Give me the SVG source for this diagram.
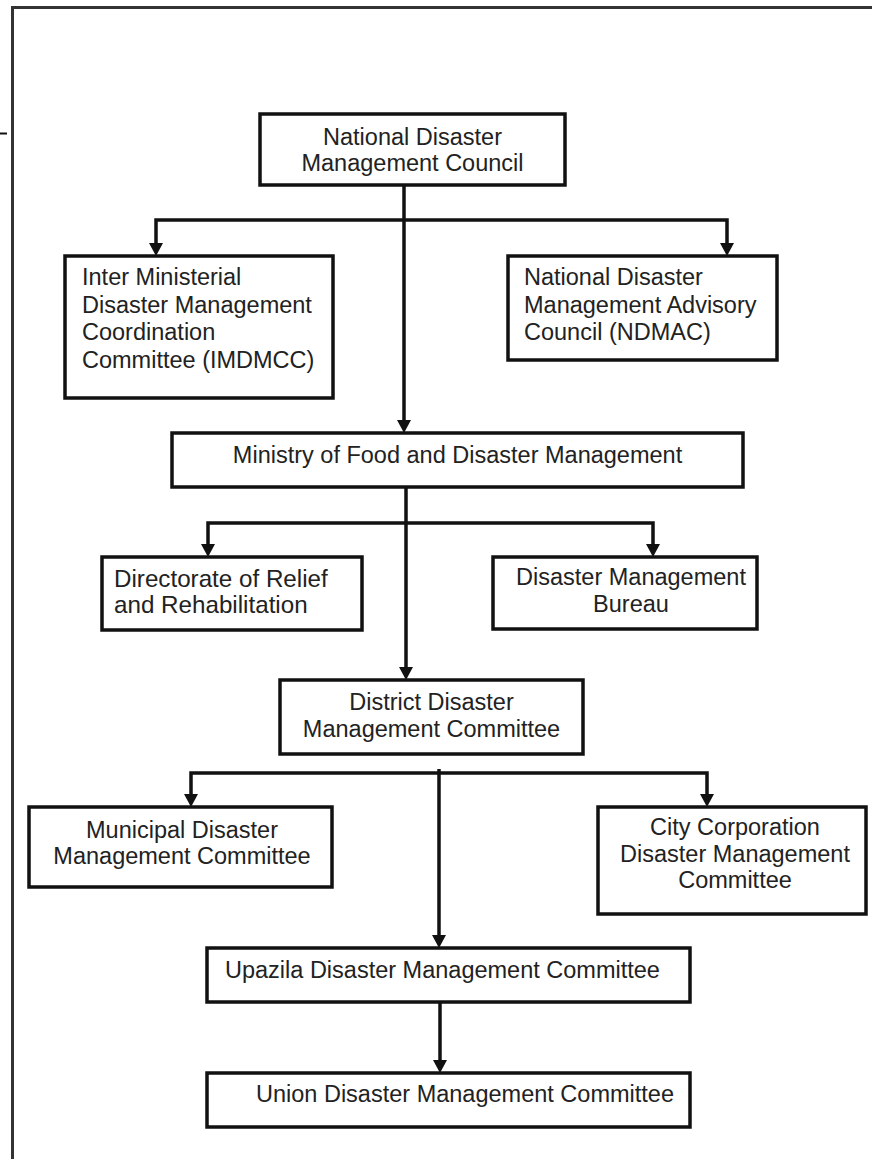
<svg xmlns="http://www.w3.org/2000/svg" width="872" height="1159" viewBox="0 0 872 1159">
<style>
.box{fill:#fff;stroke:#111;stroke-width:3.5}
.t{font-family:"Liberation Sans",Arial,sans-serif;font-size:23.5px;fill:#222}
.c{text-anchor:middle}
.conn{fill:none;stroke:#111;stroke-width:3.5}
.frame{fill:none;stroke:#333;stroke-width:3}
</style>
<defs>
<marker id="arr" markerUnits="userSpaceOnUse" markerWidth="16" markerHeight="16" viewBox="0 -8 16 16" refX="5" refY="0" orient="auto" overflow="visible">
<path d="M0,-7 L13,0 L0,7 z" fill="#111"/>
</marker>
</defs>
<rect width="872" height="1159" fill="#fff"/>
<g id="frame">
<path class="frame" d="M12.5,1159 V7.5 H872"/>
<path d="M0,133.5 H7" stroke="#111" stroke-width="2"/>
</g>
<g id="connectors">
<path class="conn" d="M404,185 V425" marker-end="url(#arr)"/>
<path class="conn" d="M404,220 H156 V248" marker-end="url(#arr)"/>
<path class="conn" d="M404,220 H727 V248" marker-end="url(#arr)"/>
<path class="conn" d="M406,487 V672" marker-end="url(#arr)"/>
<path class="conn" d="M406,523 H208 V549" marker-end="url(#arr)"/>
<path class="conn" d="M406,523 H653 V549" marker-end="url(#arr)"/>
<path class="conn" d="M439,773 H191 V799" marker-end="url(#arr)"/>
<path class="conn" d="M439,773 H707 V799" marker-end="url(#arr)"/>
<path class="conn" d="M439,769 V940" marker-end="url(#arr)"/>
<path class="conn" d="M440,1002 V1065" marker-end="url(#arr)"/>
</g>
<g id="ndmc">
<rect class="box" x="260" y="114" width="305" height="71"/>
<text class="t c" x="412.5" y="145">National Disaster</text>
<text class="t c" x="412.5" y="171">Management Council</text>
</g>
<g id="imdmcc">
<rect class="box" x="65" y="256" width="268" height="142"/>
<text class="t" x="82" y="285">Inter Ministerial</text>
<text class="t" x="82" y="313">Disaster Management</text>
<text class="t" x="82" y="340">Coordination</text>
<text class="t" x="82" y="368">Committee (IMDMCC)</text>
</g>
<g id="ndmac">
<rect class="box" x="508" y="256" width="269" height="104"/>
<text class="t" x="524" y="285">National Disaster</text>
<text class="t" x="524" y="313">Management Advisory</text>
<text class="t" x="524" y="340">Council (NDMAC)</text>
</g>
<g id="ministry">
<rect class="box" x="172" y="433" width="571" height="54"/>
<text class="t c" x="457.5" y="463">Ministry of Food and Disaster Management</text>
</g>
<g id="drr">
<rect class="box" x="102" y="557" width="260" height="73"/>
<text class="t" x="114" y="587" style="font-size:24.2px">Directorate of Relief</text>
<text class="t" x="114" y="613" style="font-size:24.2px">and Rehabilitation</text>
</g>
<g id="dmb">
<rect class="box" x="493" y="557" width="264" height="72"/>
<text class="t c" x="631" y="585">Disaster Management</text>
<text class="t c" x="631" y="612">Bureau</text>
</g>
<g id="district">
<rect class="box" x="280" y="680" width="303" height="74"/>
<text class="t c" x="431.5" y="710">District Disaster</text>
<text class="t c" x="431.5" y="737">Management Committee</text>
</g>
<g id="municipal">
<rect class="box" x="29" y="807" width="303" height="80"/>
<text class="t c" x="182" y="838">Municipal Disaster</text>
<text class="t c" x="182" y="864">Management Committee</text>
</g>
<g id="city">
<rect class="box" x="598" y="807" width="268" height="107"/>
<text class="t c" x="735" y="835">City Corporation</text>
<text class="t c" x="735" y="862">Disaster Management</text>
<text class="t c" x="735" y="888">Committee</text>
</g>
<g id="upazila">
<rect class="box" x="207" y="948" width="483" height="54"/>
<text class="t" x="225" y="978">Upazila Disaster Management Committee</text>
</g>
<g id="union">
<rect class="box" x="207" y="1073" width="483" height="54"/>
<text class="t" x="256" y="1102">Union Disaster Management Committee</text>
</g>
</svg>
